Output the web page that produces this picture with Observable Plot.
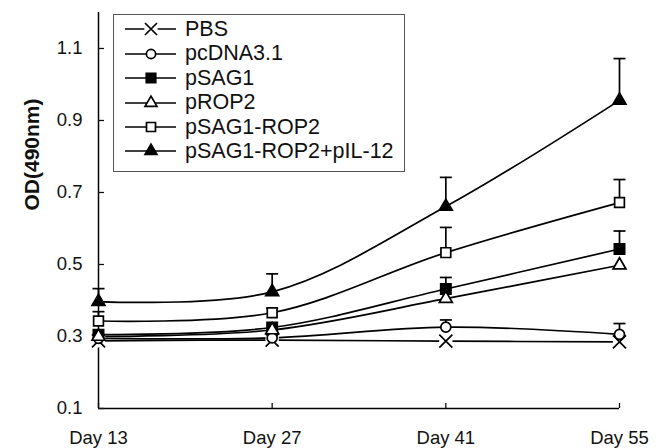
<!DOCTYPE html>
<html><head><meta charset="utf-8">
<script src="https://cdn.jsdelivr.net/npm/d3@7"></script>
<script src="https://cdn.jsdelivr.net/npm/@observablehq/plot@0.6"></script>
<style>
body{margin:0;background:#fff;}
#wrap{position:relative;width:664px;height:448px;}
#legend{position:absolute;left:113px;top:14px;width:292px;height:158px;border:1.5px solid #555;background:#fff;box-sizing:border-box;padding-top:2.3px;}
.row{height:24.4px;display:flex;align-items:center;font:21.5px "Liberation Sans",Arial,sans-serif;color:#111;white-space:nowrap;}
.row svg{flex:none;}
</style></head><body><div id="wrap"><div id="legend"></div></div>
<script>
// ---- data ----
const days = [13, 27, 41, 55];
const dayLabels = ["Day 13", "Day 27", "Day 41", "Day 55"];
const groups = ["PBS", "pcDNA3.1", "pSAG1", "pROP2", "pSAG1-ROP2", "pSAG1-ROP2+pIL-12"];
const valPBS   = [0.288, 0.290, 0.287, 0.285];
const valPcDNA = [0.295, 0.296, 0.326, 0.306];
const valSAG1  = [0.305, 0.325, 0.432, 0.543];
const valROP2  = [0.300, 0.318, 0.405, 0.498];
const valSR    = [0.343, 0.366, 0.533, 0.672];
const valSRIL  = [0.397, 0.424, 0.661, 0.956];
// upper error bar lengths (null = not visible)
const errPBS   = [null, null, null, null];
const errPcDNA = [null, null, 0.020, 0.030];
const errSAG1  = [null, null, 0.032, 0.050];
const errROP2  = [null, null, null, null];
const errSR    = [0.026, 0.012, 0.070, 0.064];
const errSRIL  = [0.036, 0.050, 0.081, 0.116];
const yTicks = [0.1, 0.3, 0.5, 0.7, 0.9, 1.1];
const yLabel = "OD(490nm)";

const values = [valPBS, valPcDNA, valSAG1, valROP2, valSR, valSRIL];
const errors = [errPBS, errPcDNA, errSAG1, errROP2, errSR, errSRIL];

const rows = [];
const errRows = [];
groups.forEach((g, gi) => days.forEach((d, di) => {
  rows.push({group: g, day: d, v: values[gi][di]});
  const e = errors[gi][di];
  if (e != null) errRows.push({group: g, day: d, v: values[gi][di], top: values[gi][di] + e});
}));

// marker styles
const styles = [
  {symbol: "times", fill: "none", r: 6},
  {symbol: "circle", fill: "white", r: 5},
  {symbol: "square", fill: "black", r: 5.8},
  {symbol: "triangle", fill: "white", r: 4.8},
  {symbol: "square", fill: "white", r: 5.5},
  {symbol: "triangle", fill: "black", r: 4.8}
];
const capSymbol = {draw(ctx, size) { const w = Math.sqrt(size / Math.PI); ctx.moveTo(-w, 0); ctx.lineTo(w, 0); }};
const SW = 1.7;

const markerMarks = [];
groups.forEach((g, gi) => {
  const data = rows.filter(r => r.group === g);
  const s = styles[gi];
  if (s.symbol === "times") {
    markerMarks.push(Plot.dot(data, {x: "day", y: "v", symbol: "square", r: 7.5, fill: "white"}));
  }
  markerMarks.push(Plot.dot(data, {x: "day", y: "v", symbol: s.symbol, r: s.r, fill: s.fill, stroke: "black", strokeWidth: SW}));
});

const chart = Plot.plot({
  width: 664, height: 448,
  marginLeft: 98, marginRight: 45, marginTop: 12, marginBottom: 40,
  style: {fontFamily: '"Liberation Sans", Arial, sans-serif', background: "white", color: "#111"},
  x: {type: "linear", domain: [13, 55]},
  y: {domain: [0.1, 1.2]},
  marks: [
    Plot.ruleX([13], {stroke: "black", strokeWidth: 1.5}),
    Plot.ruleY([0.1], {stroke: "black", strokeWidth: 1.5}),
    Plot.axisY(yTicks, {tickSize: -6, tickPadding: 22, tickFormat: d3.format(".1f"), fontSize: 18.5, label: null, strokeWidth: 1.3}),
    Plot.axisX(days, {tickSize: -5, tickPadding: 27, tickFormat: d => dayLabels[days.indexOf(d)], fontSize: 18.5, label: null, strokeWidth: 1.3}),
    Plot.text([yLabel], {frameAnchor: "left", rotate: -90, dx: -66, fontWeight: "bold", fontSize: 21, fill: "#111"}),
    Plot.line(rows, {x: "day", y: "v", z: "group", curve: "catmull-rom", stroke: "black", strokeWidth: SW}),
    Plot.ruleX(errRows, {x: "day", y1: "v", y2: "top", stroke: "black", strokeWidth: SW}),
    Plot.dot(errRows, {x: "day", y: "top", symbol: capSymbol, r: 6, stroke: "black", strokeWidth: SW, fill: "none"}),
    ...markerMarks
  ]
});
document.getElementById("wrap").prepend(chart);

// legend
const legend = d3.select("#legend");
groups.forEach((g, gi) => {
  const s = styles[gi];
  const row = legend.append("div").attr("class", "row");
  const svg = row.append("svg").attr("width", 71).attr("height", 24);
  svg.append("line").attr("x1", 11).attr("x2", 62).attr("y1", 12).attr("y2", 12).attr("stroke", "black").attr("stroke-width", SW);
  const symType = {times: d3.symbolTimes, circle: d3.symbolCircle, square: d3.symbolSquare, triangle: d3.symbolTriangle}[s.symbol];
  if (s.symbol === "times") {
    svg.append("path").attr("transform", "translate(37,12)").attr("d", d3.symbol(d3.symbolSquare, Math.PI * 7.5 * 7.5)()).attr("fill", "white");
  }
  svg.append("path").attr("transform", "translate(37,12)")
    .attr("d", d3.symbol(symType, Math.PI * s.r * s.r * 0.85)())
    .attr("fill", s.fill).attr("stroke", "black").attr("stroke-width", SW);
  row.append("span").text(g);
});
</script>
</body></html>
